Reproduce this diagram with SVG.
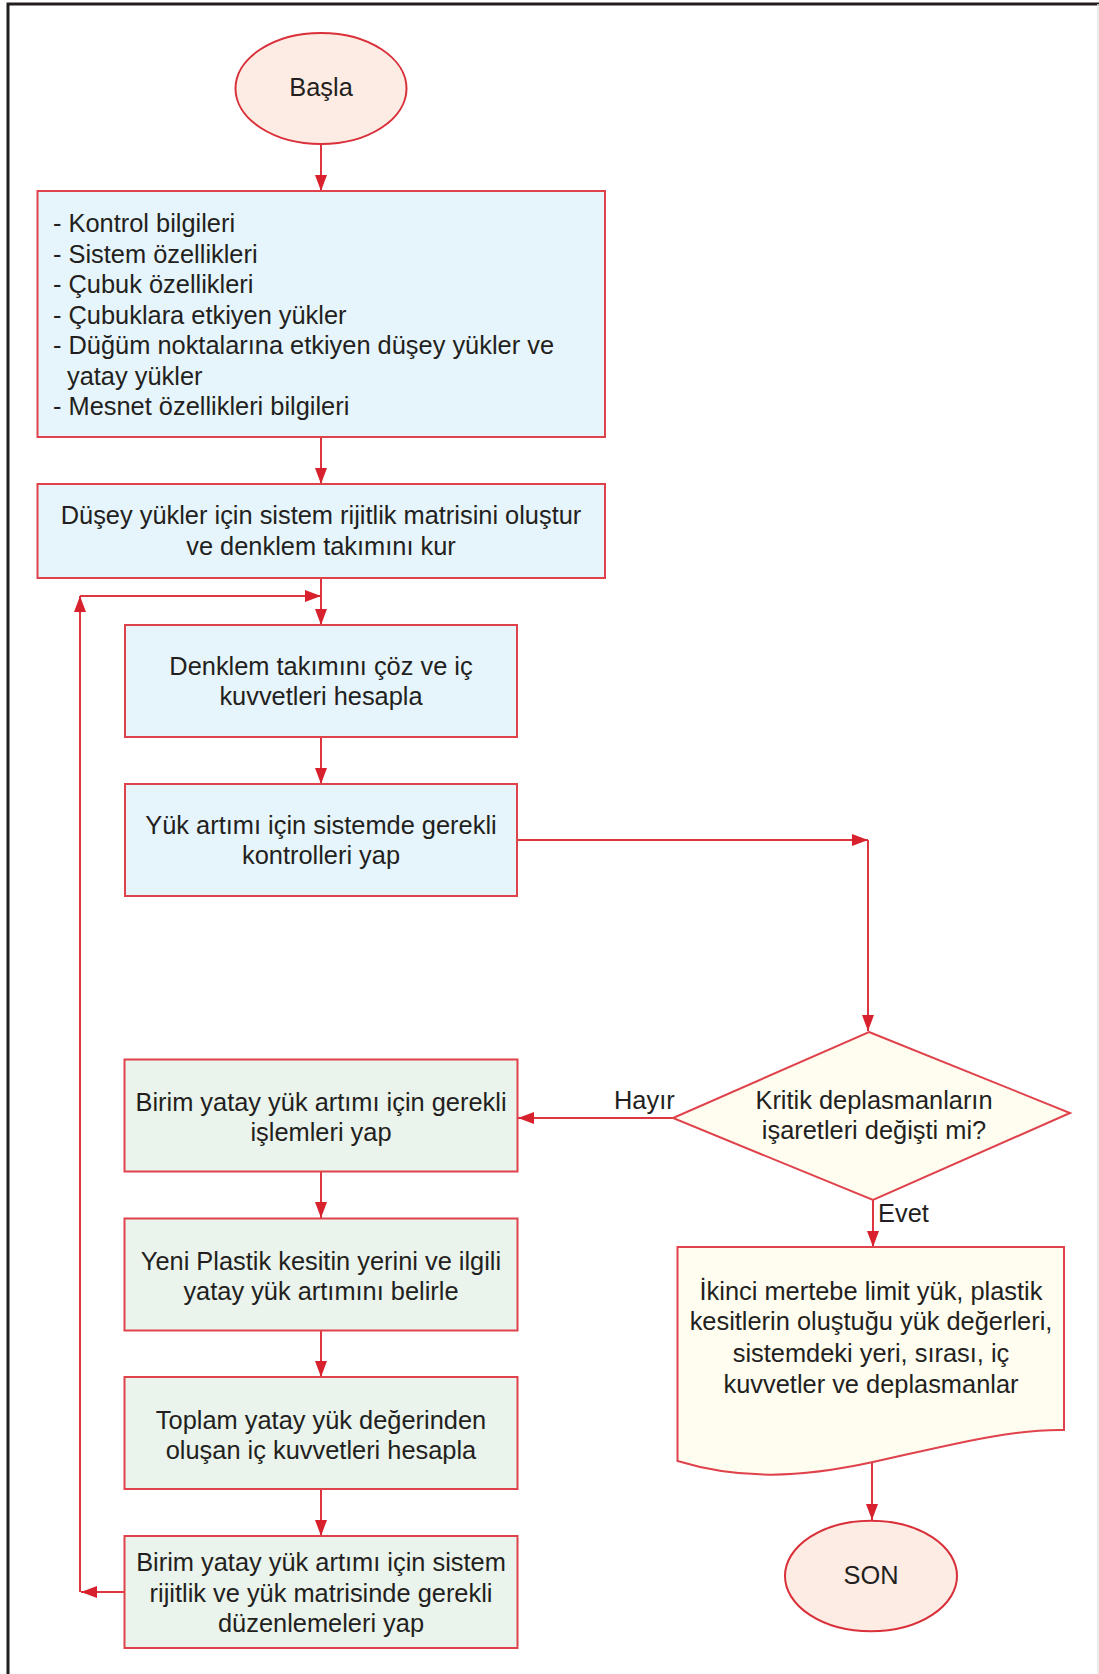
<svg xmlns="http://www.w3.org/2000/svg" width="1099" height="1674" viewBox="0 0 1099 1674">
<defs>
<marker id="ah" markerUnits="userSpaceOnUse" markerWidth="16" markerHeight="12" refX="16" refY="6" orient="auto">
<path d="M0,0 L16,6 L0,12 z" fill="#d7222d"/>
</marker>
<style>
.t{font-family:"Liberation Sans",Arial,Helvetica,sans-serif;font-size:25.4px;fill:#231f20}
.c{text-anchor:middle}
.blue{fill:#e6f4fb;stroke:#e0424c;stroke-width:2}
.green{fill:#eaf3ec;stroke:#e0424c;stroke-width:2}
.yel{fill:#fefdf0;stroke:#e0424c;stroke-width:2}
.ell{fill:#fdece4;stroke:#d9303a;stroke-width:2}
.ln{fill:none;stroke:#dd3640;stroke-width:2}
.la{fill:none;stroke:#dd3640;stroke-width:2;marker-end:url(#ah)}
</style>
</defs>
<rect width="1099" height="1674" fill="#ffffff"/>
<path d="M8,1674 L8,4 L1099,4" fill="none" stroke="#231f20" stroke-width="3"/>
<line x1="1098" y1="4" x2="1098" y2="1674" stroke="#e6e6e6" stroke-width="1.5"/>

<g id="connectors">
<line class="la" x1="321" y1="144" x2="321" y2="191"/>
<line class="la" x1="321" y1="437" x2="321" y2="484"/>
<line class="la" x1="321" y1="578" x2="321" y2="625"/>
<line class="la" x1="80" y1="1592" x2="80" y2="596"/>
<line class="la" x1="80" y1="596" x2="321" y2="596"/>
<line class="la" x1="321" y1="737" x2="321" y2="784"/>
<line class="la" x1="517" y1="840" x2="868" y2="840"/>
<line class="la" x1="868" y1="840" x2="868" y2="1031"/>
<line class="la" x1="673" y1="1118" x2="518" y2="1118"/>
<line class="la" x1="873" y1="1200" x2="873" y2="1247"/>
<line class="la" x1="321" y1="1172" x2="321" y2="1218"/>
<line class="la" x1="321" y1="1330" x2="321" y2="1377"/>
<line class="la" x1="321" y1="1489" x2="321" y2="1536"/>
<line class="la" x1="124" y1="1592" x2="81" y2="1592"/>
<line class="la" x1="872" y1="1462" x2="872" y2="1520"/>
<text class="t" x="614" y="1109">Hayır</text>
<text class="t" x="878" y="1222">Evet</text>
</g>

<g id="start">
<ellipse class="ell" cx="321" cy="88.5" rx="85.5" ry="55.5"/>
<text class="t c" x="321" y="96">Başla</text>
</g>

<g id="input">
<rect class="blue" x="37.5" y="191" width="567.5" height="246"/>
<text class="t" x="53" y="232">- Kontrol bilgileri</text>
<text class="t" x="53" y="262.5">- Sistem özellikleri</text>
<text class="t" x="53" y="293">- Çubuk özellikleri</text>
<text class="t" x="53" y="323.5">- Çubuklara etkiyen yükler</text>
<text class="t" x="53" y="354">- Düğüm noktalarına etkiyen düşey yükler ve</text>
<text class="t" x="67" y="384.5">yatay yükler</text>
<text class="t" x="53" y="415">- Mesnet özellikleri bilgileri</text>
</g>

<g id="matrix">
<rect class="blue" x="37.5" y="484" width="567.5" height="94"/>
<text class="t c" x="321" y="523.5">Düşey yükler için sistem rijitlik matrisini oluştur</text>
<text class="t c" x="321" y="555">ve denklem takımını kur</text>
</g>

<g id="solve">
<rect class="blue" x="125" y="625" width="392" height="112"/>
<text class="t c" x="321" y="675">Denklem takımını çöz ve iç</text>
<text class="t c" x="321" y="705">kuvvetleri hesapla</text>
</g>

<g id="check">
<rect class="blue" x="125" y="784" width="392" height="112"/>
<text class="t c" x="321" y="834">Yük artımı için sistemde gerekli</text>
<text class="t c" x="321" y="864">kontrolleri yap</text>
</g>

<g id="decision">
<polygon class="yel" points="869,1032 1070,1113 873,1200 673,1118"/>
<text class="t c" x="874" y="1109">Kritik deplasmanların</text>
<text class="t c" x="874" y="1139">işaretleri değişti mi?</text>
</g>

<g id="unit">
<rect class="green" x="124.5" y="1059.5" width="393" height="112"/>
<text class="t c" x="321" y="1111">Birim yatay yük artımı için gerekli</text>
<text class="t c" x="321" y="1141">işlemleri yap</text>
</g>

<g id="newplastic">
<rect class="green" x="124.5" y="1218.5" width="393" height="112"/>
<text class="t c" x="321" y="1270">Yeni Plastik kesitin yerini ve ilgili</text>
<text class="t c" x="321" y="1300">yatay yük artımını belirle</text>
</g>

<g id="total">
<rect class="green" x="124.5" y="1377" width="393" height="112"/>
<text class="t c" x="321" y="1429">Toplam yatay yük değerinden</text>
<text class="t c" x="321" y="1458.5">oluşan iç kuvvetleri hesapla</text>
</g>

<g id="adjust">
<rect class="green" x="124.5" y="1536" width="393" height="112"/>
<text class="t c" x="321" y="1570.5">Birim yatay yük artımı için sistem</text>
<text class="t c" x="321" y="1601.5">rijitlik ve yük matrisinde gerekli</text>
<text class="t c" x="321" y="1632">düzenlemeleri yap</text>
</g>

<g id="output">
<path class="yel" d="M677.5,1247 L1064,1247 L1064,1430 C1010,1429 950,1445 873,1462 C800,1478 740,1480 677.5,1461 Z"/>
<text class="t c" x="871" y="1299.5">İkinci mertebe limit yük, plastik</text>
<text class="t c" x="871" y="1330">kesitlerin oluştuğu yük değerleri,</text>
<text class="t c" x="871" y="1361.5">sistemdeki yeri, sırası, iç</text>
<text class="t c" x="871" y="1392.5">kuvvetler ve deplasmanlar</text>
</g>

<g id="end">
<ellipse class="ell" cx="871" cy="1576" rx="86" ry="55.3"/>
<text class="t c" x="871" y="1583.5">SON</text>
</g>
</svg>
